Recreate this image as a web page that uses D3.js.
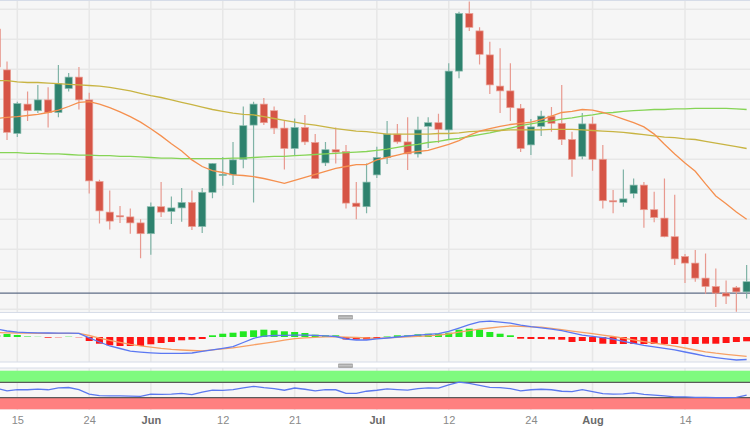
<!DOCTYPE html>
<html><head><meta charset="utf-8">
<script src="https://cdn.jsdelivr.net/npm/d3@7"></script>
<style>html,body{margin:0;padding:0;background:#fff;}svg{display:block;}</style>
</head><body><svg id="c" width="750" height="430"></svg>
<script>
// ---------------- DATA ----------------
const dates = [
"2023-05-11","2023-05-12","2023-05-15","2023-05-16","2023-05-17","2023-05-18","2023-05-19","2023-05-22","2023-05-23","2023-05-24",
"2023-05-25","2023-05-26","2023-05-29","2023-05-30","2023-05-31","2023-06-01","2023-06-02","2023-06-05","2023-06-06","2023-06-07",
"2023-06-08","2023-06-09","2023-06-12","2023-06-13","2023-06-14","2023-06-15","2023-06-16","2023-06-19","2023-06-20","2023-06-21",
"2023-06-22","2023-06-23","2023-06-26","2023-06-27","2023-06-28","2023-06-29","2023-06-30","2023-07-03","2023-07-04","2023-07-05",
"2023-07-06","2023-07-07","2023-07-10","2023-07-11","2023-07-12","2023-07-13","2023-07-14","2023-07-17","2023-07-18","2023-07-19",
"2023-07-20","2023-07-21","2023-07-24","2023-07-25","2023-07-26","2023-07-27","2023-07-28","2023-07-31","2023-08-01","2023-08-02",
"2023-08-03","2023-08-04","2023-08-07","2023-08-08","2023-08-09","2023-08-10","2023-08-11","2023-08-14","2023-08-15","2023-08-16",
"2023-08-17","2023-08-18","2023-08-21","2023-08-22"];

const open = [
0.6367,0.6299,0.6193,0.6242,0.6231,0.6249,0.6228,0.6268,0.6287,0.6249,
0.6113,0.6062,0.6056,0.6054,0.6044,0.6026,0.6071,0.6063,0.6069,0.6078,
0.6038,0.6095,0.6123,0.6124,0.6150,0.6207,0.6242,0.6231,0.6202,0.6168,
0.6203,0.6178,0.6144,0.6166,0.6163,0.6077,0.6071,0.6124,0.6153,0.6192,
0.6179,0.6159,0.6205,0.6211,0.6199,0.6297,0.6393,0.6364,0.6324,0.6272,
0.6264,0.6235,0.6174,0.6205,0.6222,0.6210,0.6183,0.6155,0.6209,0.6150,
0.6081,0.6078,0.6093,0.6107,0.6066,0.6052,0.6021,0.5988,0.5977,0.5952,
0.5938,0.5927,0.5936,0.5929];
const high = [
0.6374,0.6313,0.6246,0.6263,0.6274,0.6270,0.6307,0.6294,0.6304,0.6261,
0.6116,0.6098,0.6072,0.6068,0.6050,0.6078,0.6112,0.6088,0.6102,0.6098,
0.6102,0.6144,0.6154,0.6179,0.6238,0.6246,0.6252,0.6238,0.6214,0.6218,
0.6224,0.6192,0.6179,0.6203,0.6174,0.6112,0.6143,0.6171,0.6214,0.6209,
0.6220,0.6221,0.6220,0.6226,0.6310,0.6396,0.6413,0.6370,0.6346,0.6335,
0.6310,0.6242,0.6217,0.6231,0.6237,0.6274,0.6196,0.6227,0.6221,0.6174,
0.6099,0.6133,0.6118,0.6112,0.6096,0.6118,0.6091,0.5992,0.5999,0.5993,
0.5968,0.5948,0.5939,0.5974];
const low = [
0.6299,0.6182,0.6187,0.6214,0.6227,0.6203,0.6220,0.6263,0.6233,0.6093,
0.6043,0.6033,0.6044,0.6026,0.5985,0.5991,0.6054,0.6042,0.6046,0.6032,
0.6027,0.6085,0.6106,0.6107,0.6135,0.6078,0.6207,0.6192,0.6133,0.6156,
0.6174,0.6117,0.6139,0.6143,0.6068,0.6050,0.6060,0.6119,0.6142,0.6176,
0.6132,0.6153,0.6169,0.6177,0.6183,0.6285,0.6364,0.6308,0.6259,0.6227,
0.6214,0.6162,0.6157,0.6189,0.6196,0.6174,0.6121,0.6150,0.6131,0.6068,
0.6060,0.6071,0.6085,0.6036,0.6045,0.6020,0.5974,0.5944,0.5946,0.5926,
0.5904,0.5909,0.5896,0.5918];
const close = [
0.6304,0.6195,0.6243,0.6231,0.6249,0.6228,0.6276,0.6287,0.6249,0.6114,
0.6064,0.6047,0.6054,0.6044,0.6026,0.6071,0.6062,0.6069,0.6078,0.6038,
0.6095,0.6143,0.6125,0.6149,0.6206,0.6242,0.6211,0.6202,0.6168,0.6203,
0.6179,0.6118,0.6166,0.6162,0.6077,0.6071,0.6112,0.6153,0.6192,0.6179,
0.6159,0.6199,0.6211,0.6200,0.6297,0.6393,0.6370,0.6325,0.6274,0.6264,
0.6236,0.6168,0.6204,0.6222,0.6210,0.6183,0.6150,0.6209,0.6150,0.6081,
0.6079,0.6084,0.6107,0.6066,0.6053,0.6021,0.5984,0.5977,0.5952,0.5938,
0.5927,0.5922,0.5929,0.5946];

const sma20 = [
0.6218,0.6220,0.6221,0.6223,0.6225,0.6228,0.6232,0.6238,0.6245,0.6246,
0.6242,0.6236,0.6229,0.6221,0.6212,0.6201,0.6189,0.6176,0.6164,0.6149,
0.6138,0.6131,0.6128,0.6124,0.6123,0.6121,0.6118,0.6114,0.6110,0.6115,
0.6120,0.6125,0.6130,0.6135,0.6138,0.6141,0.6141,0.6149,0.6153,0.6157,
0.6161,0.6163,0.6165,0.6170,0.6175,0.6181,0.6190,0.6197,0.6201,0.6205,
0.6208,0.6210,0.6212,0.6216,0.6222,0.6228,0.6230,0.6233,0.6232,0.6228,
0.6223,0.6217,0.6211,0.6204,0.6192,0.6175,0.6159,0.6144,0.6130,0.6109,
0.6089,0.6076,0.6062,0.6050];
const sma100 = [
0.6281,0.6281,0.6279,0.6278,0.6278,0.6277,0.6276,0.6275,0.6274,0.6273,
0.6272,0.6270,0.6267,0.6264,0.6260,0.6256,0.6253,0.6249,0.6245,0.6241,
0.6237,0.6233,0.6230,0.6227,0.6225,0.6224,0.6221,0.6218,0.6215,0.6212,
0.6209,0.6207,0.6204,0.6201,0.6199,0.6197,0.6196,0.6194,0.6192,0.6192,
0.6192,0.6192,0.6192,0.6193,0.6193,0.6194,0.6196,0.6197,0.6198,0.6198,
0.6199,0.6199,0.6199,0.6199,0.6200,0.6200,0.6200,0.6199,0.6198,0.6197,
0.6196,0.6195,0.6193,0.6191,0.6189,0.6187,0.6186,0.6184,0.6183,0.6180,
0.6177,0.6174,0.6171,0.6168];
const sma200 = [
0.6161,0.6161,0.6161,0.6160,0.6160,0.6159,0.6159,0.6158,0.6157,0.6157,
0.6156,0.6156,0.6155,0.6155,0.6154,0.6153,0.6152,0.6152,0.6151,0.6151,
0.6151,0.6151,0.6151,0.6152,0.6152,0.6153,0.6154,0.6155,0.6155,0.6156,
0.6157,0.6158,0.6159,0.6160,0.6161,0.6162,0.6163,0.6165,0.6167,0.6170,
0.6173,0.6175,0.6178,0.6180,0.6183,0.6185,0.6188,0.6191,0.6194,0.6198,
0.6202,0.6206,0.6209,0.6212,0.6214,0.6217,0.6219,0.6222,0.6224,0.6227,
0.6228,0.6230,0.6231,0.6232,0.6233,0.6233,0.6234,0.6234,0.6235,0.6235,
0.6235,0.6235,0.6234,0.6233];

const priceLine = 0.5927;

const macd = [
0.00080,0.00060,0.00048,0.00044,0.00042,0.00040,0.00039,0.00038,0.00037,-0.00008,
-0.00050,-0.00090,-0.00115,-0.00142,-0.00151,-0.00158,-0.00163,-0.00163,-0.00163,-0.00160,
-0.00144,-0.00128,-0.00113,-0.00097,-0.00055,-0.00013,0.00008,0.00015,0.00017,0.00019,
0.00019,0.00016,0.00012,0.00005,-0.00020,-0.00030,-0.00030,-0.00019,-0.00010,0.00000,
0.00010,0.00018,0.00026,0.00034,0.00057,0.00089,0.00123,0.00151,0.00158,0.00149,
0.00139,0.00119,0.00103,0.00091,0.00078,0.00063,0.00041,0.00019,0.00007,-0.00006,
-0.00022,-0.00043,-0.00064,-0.00083,-0.00098,-0.00114,-0.00129,-0.00150,-0.00170,-0.00191,
-0.00206,-0.00219,-0.00230,-0.00225];
const signal = [
0.00044,0.00042,0.00040,0.00038,0.00037,0.00037,0.00037,0.00037,0.00037,0.00015,
-0.00012,-0.00033,-0.00053,-0.00074,-0.00089,-0.00101,-0.00114,-0.00124,-0.00130,-0.00135,
-0.00139,-0.00129,-0.00118,-0.00108,-0.00094,-0.00078,-0.00063,-0.00048,-0.00032,-0.00017,
-0.00009,-0.00004,0.00001,0.00003,-0.00001,-0.00005,-0.00009,-0.00013,-0.00008,-0.00003,
0.00002,0.00007,0.00012,0.00018,0.00032,0.00048,0.00063,0.00078,0.00090,0.00102,
0.00110,0.00106,0.00102,0.00098,0.00086,0.00073,0.00059,0.00046,0.00033,0.00019,
0.00005,-0.00012,-0.00029,-0.00046,-0.00062,-0.00077,-0.00092,-0.00110,-0.00130,-0.00148,
-0.00162,-0.00173,-0.00184,-0.00194];
const hist = [
0.00020,0.00030,0.00020,0.00005,0.00002,-0.00007,-0.00003,0.00003,-0.00003,-0.00040,
-0.00067,-0.00083,-0.00090,-0.00090,-0.00090,-0.00073,-0.00060,-0.00050,-0.00033,-0.00027,
-0.00020,0.00017,0.00033,0.00043,0.00057,0.00067,0.00073,0.00067,0.00057,0.00050,
0.00040,0.00023,0.00017,0.00017,-0.00025,-0.00025,-0.00025,-0.00020,0.00005,0.00017,
0.00017,0.00027,0.00033,0.00033,0.00043,0.00073,0.00083,0.00073,0.00050,0.00033,
0.00017,-0.00017,-0.00020,-0.00020,-0.00023,-0.00027,-0.00050,-0.00040,-0.00050,-0.00067,
-0.00070,-0.00070,-0.00070,-0.00070,-0.00070,-0.00070,-0.00070,-0.00070,-0.00070,-0.00067,
-0.00067,-0.00060,-0.00050,-0.00043];

const rsi = [
54.4,47.6,51.1,50.6,52.4,50.6,55.7,56.5,51.1,39.2,
35.4,34.7,34.7,34.2,33.4,39.2,38.5,39.2,41.0,38.0,
44.3,49.4,48.9,51.1,55.7,59.5,56.2,53.7,49.4,55.2,
51.9,47.6,51.1,50.6,41.0,41.0,46.8,49.4,52.7,51.1,
49.9,53.7,55.7,54.9,63.3,70.4,67.1,62.0,57.0,56.2,
53.7,47.6,50.6,51.9,50.6,46.8,45.6,51.1,45.6,40.5,
39.2,40.0,42.5,38.7,36.7,34.7,32.4,32.2,31.1,30.9,
30.4,30.4,30.9,36.7];
const rsiLevels = [70, 30];

const tickDates = ["2023-05-15","2023-05-24","2023-06-01","2023-06-12","2023-06-21","2023-07-03","2023-07-12","2023-07-24","2023-08-01","2023-08-14"];
const tickLabels = ["15","24","Jun","12","21","Jul","12","24","Aug","14"];
const monthLabels = ["Jun","Jul","Aug"];

// ---------------- CHART ----------------
const svg = d3.select("#c");
const W = 750;
const P = { main:[1,312.5], macd:[320,362], rsi:[368,410] };

const idx = dates.map((d,i)=>i);
const x = d3.scaleLinear().domain([dates.indexOf("2023-05-15"), dates.indexOf("2023-08-14")]).range([17.3, 685]);
const yP = d3.scaleLinear().domain([0.5950, 0.6400]).range([279.3, 9.3]);
const yM = d3.scaleLinear().domain([-0.0025, 0.0017]).range([362, 320]);
const yR = d3.scaleLinear().domain([0, 100]).range([409.3, 370.7]);
const bw = 7.2;

const defs = svg.append("defs");
Object.entries(P).forEach(([k,[t,b]])=>{
  defs.append("clipPath").attr("id","clip-"+k).append("rect").attr("x",0).attr("y",t).attr("width",W).attr("height",b-t);
});

// panel backgrounds
Object.entries(P).forEach(([k,[t,b]])=>{
  svg.append("rect").attr("x",0).attr("y",t).attr("width",W).attr("height",b-t).attr("fill","#f6f6f6");
});

// vertical grid
const tickIdx = tickDates.map(d=>dates.indexOf(d));
Object.entries(P).forEach(([k,[t,b]])=>{
  svg.append("g").selectAll("line").data(tickIdx).join("line")
    .attr("x1",d=>x(d)).attr("x2",d=>x(d)).attr("y1",t).attr("y2",b)
    .attr("stroke","#e7e7e7").attr("stroke-width",1.5);
});

// horizontal grid in main
const gridScale = d3.scaleLinear().domain([yP.invert(P.main[1]), yP.invert(P.main[0])]);
svg.append("g").selectAll("line").data(gridScale.ticks(12)).join("line")
  .attr("x1",0).attr("x2",W).attr("y1",d=>yP(d)).attr("y2",d=>yP(d))
  .attr("stroke","#e7e7e7").attr("stroke-width",1.5);

// panel borders
[[P.main[0]-0.5],[P.main[1]],[P.macd[0]],[P.macd[1]],[P.rsi[0]]].forEach(([yy])=>{
  svg.append("line").attr("x1",0).attr("x2",W).attr("y1",yy).attr("y2",yy)
    .attr("stroke","#d6dce8").attr("stroke-width",1);
});

// ---- main panel ----
const gMain = svg.append("g").attr("clip-path","url(#clip-main)");

// price line
gMain.append("line").attr("x1",0).attr("x2",W).attr("y1",yP(priceLine)).attr("y2",yP(priceLine))
  .attr("stroke","#5e6d86").attr("stroke-width",1.4);

const RED="#d65546", GREEN="#2e826e";
const candles = gMain.append("g");
candles.selectAll("line.wick").data(idx).join("line").attr("class","wick")
  .attr("x1",i=>x(i)).attr("x2",i=>x(i)).attr("y1",i=>yP(high[i])).attr("y2",i=>yP(low[i]))
  .attr("stroke",i=>close[i]>=open[i]?"#7fb3a6":"#e8998f").attr("stroke-width",1.2);
candles.selectAll("rect.body").data(idx).join("rect").attr("class","body")
  .attr("x",i=>x(i)-bw/2).attr("width",bw)
  .attr("y",i=>yP(Math.max(open[i],close[i])))
  .attr("height",i=>Math.max(1.2, Math.abs(yP(open[i])-yP(close[i]))))
  .attr("fill",i=>close[i]>=open[i]?GREEN:RED)
  .attr("stroke",i=>close[i]>=open[i]?"#8cbdb0":"#eaa096").attr("stroke-width",0.7);

const lineP = arr => d3.line().x(i=>x(i)).y(i=>yP(arr[i]))(idx);
gMain.append("path").attr("d",lineP(sma200)).attr("fill","none").attr("stroke","#86d456").attr("stroke-width",1.3);
gMain.append("path").attr("d",lineP(sma100)).attr("fill","none").attr("stroke","#c8b443").attr("stroke-width",1.3);
gMain.append("path").attr("d",lineP(sma20)).attr("fill","none").attr("stroke","#f5904f").attr("stroke-width",1.3);

// ---- MACD panel ----
const gM = svg.append("g").attr("clip-path","url(#clip-macd)");
gM.selectAll("rect").data(idx).join("rect")
  .attr("x",i=>x(i)-3.5).attr("width",7)
  .attr("y",i=>Math.min(yM(0),yM(hist[i])))
  .attr("height",i=>Math.abs(yM(hist[i])-yM(0)))
  .attr("fill",i=>hist[i]>=0?"#22e822":"#ff1414");
gM.append("path").attr("d",d3.line().x(i=>x(i)).y(i=>yM(signal[i]))(idx))
  .attr("fill","none").attr("stroke","#f7a065").attr("stroke-width",1.3);
gM.append("path").attr("d",d3.line().x(i=>x(i)).y(i=>yM(macd[i]))(idx))
  .attr("fill","none").attr("stroke","#5b78f2").attr("stroke-width",1.3);

// ---- RSI panel ----
const gR = svg.append("g").attr("clip-path","url(#clip-rsi)");
gR.append("rect").attr("x",0).attr("width",W).attr("y",yR(100)).attr("height",yR(70)-yR(100)).attr("fill","#7ffa7f");
gR.append("rect").attr("x",0).attr("width",W).attr("y",yR(30)).attr("height",yR(0)-yR(30)).attr("fill","#ff8080");
gR.selectAll("line.lvl").data(rsiLevels).join("line").attr("class","lvl")
  .attr("x1",0).attr("x2",W).attr("y1",d=>yR(d)).attr("y2",d=>yR(d))
  .attr("stroke","#5a5a5a").attr("stroke-width",1.2);
gR.append("path").attr("d",d3.line().x(i=>x(i)).y(i=>yR(rsi[i]))(idx))
  .attr("fill","none").attr("stroke","#5b78ee").attr("stroke-width",1.3);

// grips
[315, 363.5].forEach(gy=>{
  svg.append("rect").attr("x",338).attr("y",gy).attr("width",15).attr("height",4.5).attr("rx",1).attr("fill","#a9a9a9");
  svg.append("line").attr("x1",338.5).attr("x2",352.5).attr("y1",gy+2.25).attr("y2",gy+2.25).attr("stroke","#d4d4d4").attr("stroke-width",0.8);
});

// ---- X axis ----
const ax = svg.append("g").attr("transform",`translate(0,${P.rsi[1]})`)
  .call(d3.axisBottom(x).tickValues(tickIdx).tickFormat((d,i)=>tickLabels[i]).tickSize(0).tickPadding(6.5));
ax.select(".domain").remove();
ax.selectAll("text")
  .attr("font-family","'Liberation Sans', Arial, sans-serif")
  .attr("font-size",11)
  .attr("font-weight",(d,i)=>monthLabels.includes(tickLabels[i])?"bold":"normal")
  .attr("fill",(d,i)=>monthLabels.includes(tickLabels[i])?"#6a6a6a":"#8a8a8a");
</script>
</body></html>
